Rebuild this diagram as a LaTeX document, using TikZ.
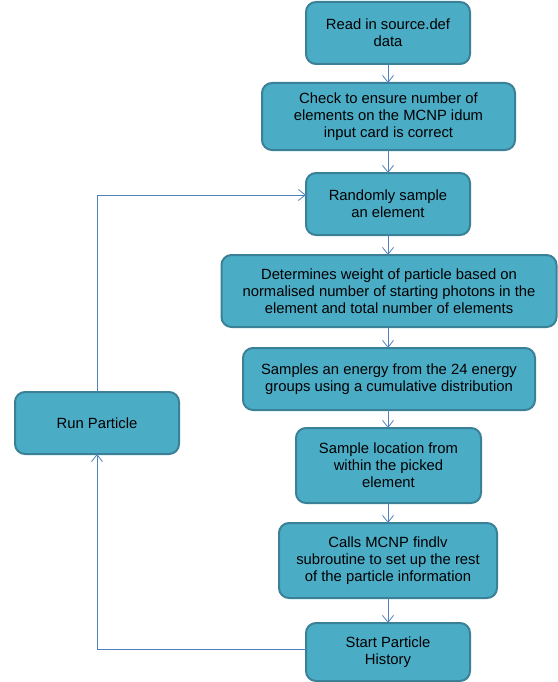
\documentclass[tikz,border=0pt]{standalone}
\usepackage{fontspec}
\setmainfont{Liberation Sans}
\usetikzlibrary{arrows.meta}
\definecolor{boxfill}{HTML}{4BACC6}
\definecolor{boxline}{HTML}{3A8197}
\definecolor{arrline}{HTML}{4F81BD}
\tikzset{
  flowbox/.style={draw=boxline, line width=2pt, fill=boxfill, rounded corners=10pt,
    align=center, inner sep=2pt, outer sep=0pt, text=black,
    font=\fontsize{14.8}{17}\selectfont},
  flowarrow/.style={draw=arrline, line width=0.8pt, -{Straight Barb[length=7pt,width=11pt]}}
}
\begin{document}
\begin{tikzpicture}[x=1pt,y=-1pt]
\useasboundingbox (0,0) rectangle (557,682);
\node[flowbox, minimum width=164pt, minimum height=62pt] (b1) at (388,33) {Read in source.def\\data};
\node[flowbox, minimum width=253pt, minimum height=67pt] (b2) at (388.5,116.5) {Check to ensure number of\\elements on the MCNP idum\\input card is correct};
\node[flowbox, minimum width=164pt, minimum height=62pt] (b3) at (388,204) {Randomly sample\\an element};
\node[flowbox, minimum width=335pt, minimum height=72pt] (b4) at (389,291) {Determines weight of particle based on\\normalised number of starting photons in the\\element and total number of elements};
\node[flowbox, minimum width=292pt, minimum height=62pt] (b5) at (389,379) {Samples an energy from the 24 energy\\groups using a cumulative distribution};
\node[flowbox, minimum width=185pt, minimum height=75pt] (b6) at (388.5,465.5) {Sample location from\\within the picked\\element};
\node[flowbox, minimum width=218pt, minimum height=75pt] (b7) at (388,560.5) {Calls MCNP findlv\\subroutine to set up the rest\\of the particle information};
\node[flowbox, minimum width=164pt, minimum height=58pt] (b8) at (388,652) {Start Particle\\History};
\node[flowbox, minimum width=164pt, minimum height=62pt] (run) at (97,423) {Run Particle};
\draw[flowarrow] (b1.south) -- (b1.south |- b2.north);
\draw[flowarrow] (b1.south |- b2.south) -- (b3.north);
\draw[flowarrow] (b3.south) -- (b3.south |- b4.north);
\draw[flowarrow] (b3.south |- b4.south) -- (b3.south |- b5.north);
\draw[flowarrow] (b3.south |- b5.south) -- (b3.south |- b6.north);
\draw[flowarrow] (b3.south |- b6.south) -- (b3.south |- b7.north);
\draw[flowarrow] (b3.south |- b7.south) -- (b8.north);
\coordinate (loopin) at ([yshift=3pt]b8.west);
\coordinate (loopout) at ([yshift=9pt]b3.west);
\draw[flowarrow] (loopin) -| (run.south);
\draw[flowarrow] (run.north) |- (loopout);
\end{tikzpicture}
\end{document}
